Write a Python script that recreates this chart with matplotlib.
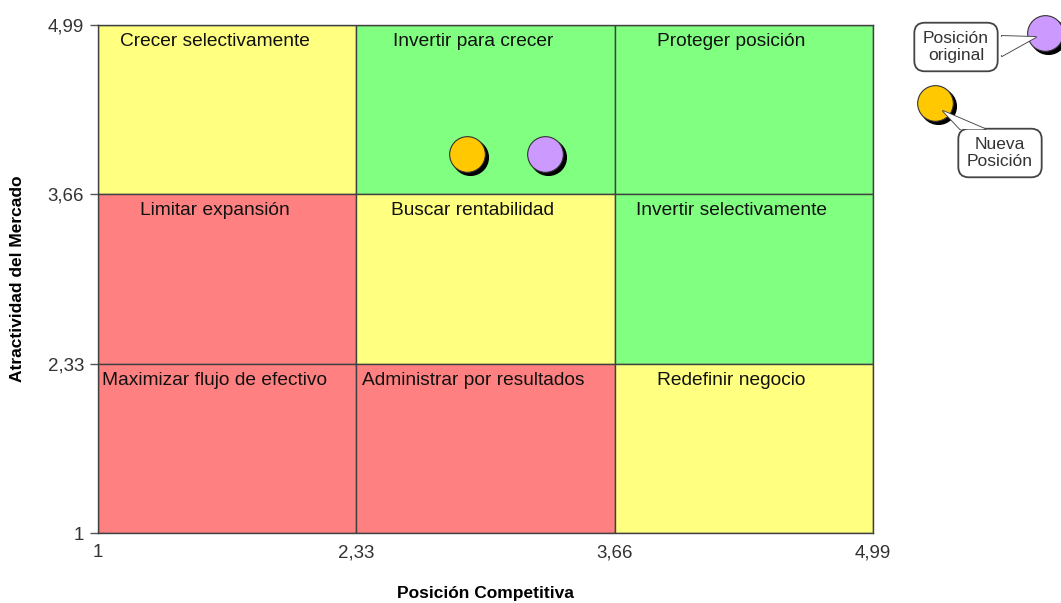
import matplotlib
matplotlib.use("Agg")
import matplotlib.pyplot as plt
from matplotlib.patches import Rectangle, Polygon
from matplotlib.lines import Line2D
from matplotlib import transforms

plt.rcParams['font.family'] = ['Liberation Sans', 'DejaVu Sans']

# ---- datos ----
edges = [1, 2.33, 3.66, 4.99]
tick_labels = ['1', '2,33', '3,66', '4,99']

# filas de arriba hacia abajo
cell_colors = [
    ['#FFFF80', '#80FF80', '#80FF80'],
    ['#FF8080', '#FFFF80', '#80FF80'],
    ['#FF8080', '#FF8080', '#FFFF80'],
]
cell_labels = [
    ['Crecer selectivamente', 'Invertir para crecer', 'Proteger posición'],
    ['Limitar expansión', 'Buscar rentabilidad', 'Invertir selectivamente'],
    ['Maximizar flujo de efectivo', 'Administrar por resultados', 'Redefinir negocio'],
]

nueva_pos = (2.90, 3.98)
original_pos = (3.30, 3.98)
color_nueva = '#FFC800'
color_original = '#CC99FF'

W, H = 1061, 603


def fp(x, y):
    # pixel (desde arriba-izquierda) -> fracción de figura
    return (x / W, 1 - y / H)


# ---- figura ----
fig = plt.figure(figsize=(10.61, 6.03), dpi=100)
ax = fig.add_axes([98 / W, 1 - 533 / H, 775 / W, 508 / H])

for r in range(3):
    y0 = edges[2 - r]
    y1 = edges[3 - r]
    for c in range(3):
        x0, x1 = edges[c], edges[c + 1]
        ax.add_patch(Rectangle((x0, y0), x1 - x0, y1 - y0,
                               facecolor=cell_colors[r][c], edgecolor='#404040', lw=1.0))
        ax.text((x0 + x1) / 2 - 0.065, y1 - 0.13, cell_labels[r][c],
                ha='center', va='center', fontsize=13.8, color='#111111')

ax.set_xlim(edges[0], edges[-1])
ax.set_ylim(edges[0], edges[-1])
ax.set_xticks(edges)
ax.set_xticklabels(tick_labels)
ax.set_yticks(edges)
ax.set_yticklabels(tick_labels)
ax.tick_params(axis='x', length=0, pad=8, labelsize=13.5, labelcolor='#333333')
ax.tick_params(axis='y', length=6, width=1, color='#555555', pad=4, labelsize=13.5, labelcolor='#333333')
for s in ax.spines.values():
    s.set_color('#404040')
    s.set_linewidth(1.0)

ax.set_xlabel('Posición Competitiva', fontsize=12.5, fontweight='bold', labelpad=18)
ax.set_ylabel('Atractividad del Mercado', fontsize=12.5, fontweight='bold', labelpad=16)


def bubble(axis, x, y, color, transform=None, clip=True):
    tr = transform if transform is not None else axis.transData
    shadow = transforms.offset_copy(tr, fig=fig, x=3, y=-3, units='dots')
    axis.scatter([x], [y], s=660, color='black', transform=shadow, zorder=4, clip_on=clip)
    axis.scatter([x], [y], s=660, color=color, edgecolors='#333333', linewidths=0.8,
                 transform=tr, zorder=5, clip_on=clip)


bubble(ax, *nueva_pos, color_nueva)
bubble(ax, *original_pos, color_original)

# leyenda (fuera del área del gráfico)
bubble(ax, *fp(1045, 33), color_original, transform=fig.transFigure, clip=False)
bubble(ax, *fp(935, 103), color_nueva, transform=fig.transFigure, clip=False)

box = dict(boxstyle='round,pad=0.5,rounding_size=0.6', fc='white', ec='#444444', lw=1.3)
fig.text(*fp(956, 47), 'Posición\noriginal', ha='center', va='center',
         fontsize=12.5, color='#333333', linespacing=1.1, bbox=box, zorder=2)
fig.text(*fp(1000, 153), 'Nueva\nPosición', ha='center', va='center',
         fontsize=12.5, color='#333333', linespacing=1.1, bbox=box, zorder=2)

# punteros en forma de cuña
wedges = [
    [fp(1002, 36), fp(1036, 37), fp(1002, 56)],
    [fp(960, 129), fp(943, 111), fp(985, 129)],
]
for pts in wedges:
    fig.patches.append(Polygon(pts, closed=True, fc='white', ec='none',
                               transform=fig.transFigure, zorder=3))
    xs = [p[0] for p in pts]
    ys = [p[1] for p in pts]
    fig.lines.append(Line2D(xs, ys, color='#444444', lw=1.3,
                            transform=fig.transFigure, zorder=3))

fig.savefig('out.png', dpi=100)
